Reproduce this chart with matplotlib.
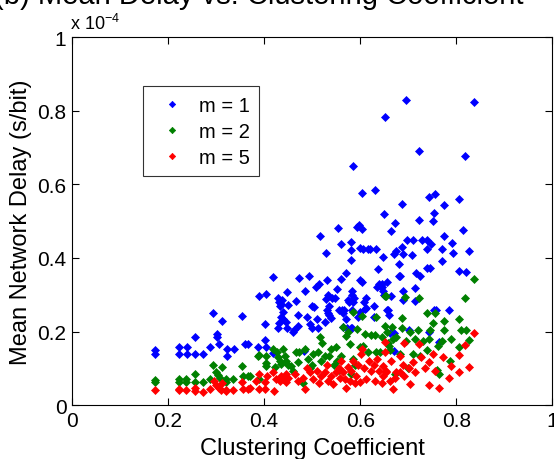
import matplotlib
matplotlib.use('Agg')
import matplotlib.pyplot as plt

plt.rcParams['font.family'] = ['Liberation Sans', 'DejaVu Sans']
plt.rcParams['mathtext.fontset'] = 'custom'
plt.rcParams['mathtext.rm'] = 'Liberation Sans'
plt.rcParams['mathtext.it'] = 'Liberation Sans'

# delays in units of 1e-4 s/bit
m1_x = [0.173, 0.173, 0.223, 0.223, 0.239, 0.239, 0.256, 0.256, 0.272, 0.288,
        0.294, 0.301, 0.301, 0.306, 0.313, 0.322, 0.322, 0.337, 0.353, 0.360,
        0.367, 0.388, 0.390, 0.402, 0.402, 0.404, 0.404, 0.418, 0.419, 0.428,
        0.430, 0.432, 0.435, 0.438, 0.439, 0.440, 0.436, 0.445, 0.448, 0.448,
        0.450, 0.430, 0.428, 0.462, 0.460, 0.467, 0.471, 0.471, 0.472, 0.484,
        0.486, 0.493, 0.490, 0.495, 0.500, 0.500, 0.503, 0.507, 0.510, 0.512,
        0.515, 0.517, 0.528, 0.530, 0.528, 0.532, 0.535, 0.535, 0.530, 0.532,
        0.527, 0.540, 0.542, 0.548, 0.552, 0.553, 0.555, 0.560, 0.560, 0.563,
        0.565, 0.565, 0.567, 0.571, 0.571, 0.572, 0.575, 0.576, 0.580, 0.581,
        0.581, 0.581, 0.582, 0.582, 0.582, 0.583, 0.585, 0.585, 0.588, 0.594,
        0.596, 0.598, 0.600, 0.600, 0.603, 0.604, 0.605, 0.603, 0.600, 0.607,
        0.610, 0.612, 0.612, 0.616, 0.620, 0.628, 0.628, 0.631, 0.632, 0.635,
        0.638, 0.640, 0.642, 0.646, 0.647, 0.645, 0.648, 0.650, 0.649, 0.651,
        0.655, 0.655, 0.657, 0.660, 0.662, 0.664, 0.665, 0.670, 0.670, 0.670,
        0.672, 0.674, 0.680, 0.681, 0.683, 0.686, 0.686, 0.690, 0.690, 0.690,
        0.696, 0.698, 0.701, 0.707, 0.710, 0.715, 0.715, 0.716, 0.722, 0.723,
        0.725, 0.728, 0.740, 0.740, 0.740, 0.743, 0.743, 0.745, 0.748, 0.751,
        0.753, 0.753, 0.755, 0.758, 0.765, 0.770, 0.770, 0.775, 0.775, 0.784,
        0.791, 0.794, 0.805, 0.805, 0.814, 0.819, 0.821, 0.827, 0.836]
m1_y = [0.150, 0.140, 0.159, 0.139, 0.159, 0.140, 0.185, 0.140, 0.140, 0.158,
        0.250, 0.193, 0.184, 0.165, 0.229, 0.153, 0.133, 0.153, 0.241, 0.166,
        0.166, 0.158, 0.298, 0.220, 0.178, 0.158, 0.303, 0.349, 0.142, 0.290,
        0.280, 0.270, 0.275, 0.285, 0.252, 0.235, 0.240, 0.225, 0.308, 0.210,
        0.273, 0.223, 0.210, 0.203, 0.200, 0.284, 0.245, 0.215, 0.345, 0.147,
        0.311, 0.350, 0.240, 0.220, 0.210, 0.270, 0.267, 0.320, 0.235, 0.210,
        0.330, 0.460, 0.414, 0.340, 0.289, 0.300, 0.270, 0.245, 0.260, 0.250,
        0.227, 0.238, 0.290, 0.290, 0.317, 0.481, 0.260, 0.439, 0.343, 0.260,
        0.250, 0.213, 0.260, 0.358, 0.234, 0.210, 0.287, 0.280, 0.210, 0.444,
        0.423, 0.394, 0.311, 0.260, 0.210, 0.300, 0.649, 0.280, 0.292, 0.485,
        0.240, 0.490, 0.340, 0.426, 0.480, 0.577, 0.425, 0.336, 0.252, 0.280,
        0.262, 0.290, 0.265, 0.425, 0.425, 0.270, 0.240, 0.586, 0.425, 0.320,
        0.370, 0.330, 0.325, 0.330, 0.402, 0.320, 0.309, 0.300, 0.520, 0.784,
        0.334, 0.260, 0.260, 0.245, 0.196, 0.472, 0.298, 0.410, 0.196, 0.147,
        0.496, 0.418, 0.352, 0.385, 0.350, 0.547, 0.430, 0.410, 0.310, 0.285,
        0.829, 0.450, 0.205, 0.407, 0.450, 0.318, 0.283, 0.360, 0.691, 0.502,
        0.352, 0.450, 0.450, 0.424, 0.374, 0.565, 0.200, 0.374, 0.437, 0.500,
        0.523, 0.260, 0.574, 0.260, 0.171, 0.424, 0.393, 0.544, 0.460, 0.258,
        0.442, 0.413, 0.559, 0.364, 0.475, 0.677, 0.361, 0.418, 0.823]

m2_x = [0.173, 0.173, 0.222, 0.222, 0.238, 0.238, 0.255, 0.255, 0.272, 0.288,
        0.294, 0.300, 0.304, 0.308, 0.313, 0.320, 0.320, 0.335, 0.353, 0.356,
        0.367, 0.370, 0.388, 0.390, 0.390, 0.403, 0.403, 0.404, 0.419, 0.422,
        0.426, 0.429, 0.432, 0.436, 0.440, 0.443, 0.446, 0.450, 0.455, 0.460,
        0.467, 0.471, 0.473, 0.480, 0.486, 0.491, 0.495, 0.500, 0.502, 0.512,
        0.516, 0.519, 0.520, 0.526, 0.536, 0.540, 0.545, 0.550, 0.552, 0.555,
        0.561, 0.564, 0.571, 0.575, 0.578, 0.580, 0.585, 0.586, 0.590, 0.593,
        0.599, 0.604, 0.605, 0.609, 0.616, 0.623, 0.630, 0.632, 0.633, 0.642,
        0.645, 0.651, 0.651, 0.653, 0.655, 0.658, 0.660, 0.662, 0.667, 0.668,
        0.672, 0.675, 0.682, 0.686, 0.688, 0.694, 0.695, 0.700, 0.703, 0.710,
        0.715, 0.720, 0.723, 0.725, 0.730, 0.740, 0.740, 0.743, 0.745, 0.751,
        0.755, 0.760, 0.762, 0.765, 0.770, 0.775, 0.775, 0.786, 0.790, 0.805,
        0.805, 0.810, 0.819, 0.820, 0.827, 0.836]
m2_y = [0.069, 0.064, 0.071, 0.062, 0.070, 0.062, 0.085, 0.064, 0.064, 0.070,
        0.110, 0.090, 0.082, 0.073, 0.105, 0.070, 0.064, 0.072, 0.106, 0.080,
        0.080, 0.080, 0.134, 0.072, 0.136, 0.134, 0.114, 0.107, 0.154, 0.103,
        0.144, 0.130, 0.121, 0.112, 0.154, 0.134, 0.121, 0.110, 0.107, 0.093,
        0.145, 0.116, 0.144, 0.060, 0.153, 0.125, 0.100, 0.110, 0.139, 0.144,
        0.184, 0.121, 0.170, 0.134, 0.134, 0.153, 0.110, 0.157, 0.121, 0.095,
        0.134, 0.212, 0.189, 0.200, 0.166, 0.085, 0.125, 0.253, 0.110, 0.207,
        0.157, 0.243, 0.160, 0.193, 0.144, 0.191, 0.191, 0.239, 0.144, 0.145,
        0.185, 0.216, 0.298, 0.296, 0.200, 0.170, 0.162, 0.150, 0.212, 0.180,
        0.085, 0.184, 0.140, 0.237, 0.210, 0.293, 0.175, 0.100, 0.200, 0.140,
        0.180, 0.205, 0.290, 0.135, 0.175, 0.250, 0.150, 0.180, 0.205, 0.222,
        0.250, 0.095, 0.160, 0.084, 0.175, 0.228, 0.205, 0.121, 0.180, 0.233,
        0.157, 0.205, 0.291, 0.205, 0.178, 0.342]

m5_x = [0.173, 0.222, 0.222, 0.238, 0.255, 0.255, 0.272, 0.288, 0.295, 0.300,
        0.305, 0.310, 0.313, 0.320, 0.320, 0.335, 0.353, 0.356, 0.367, 0.370,
        0.384, 0.390, 0.390, 0.402, 0.402, 0.405, 0.419, 0.420, 0.425, 0.432,
        0.435, 0.439, 0.445, 0.446, 0.450, 0.464, 0.470, 0.480, 0.486, 0.490,
        0.495, 0.502, 0.509, 0.515, 0.519, 0.526, 0.530, 0.533, 0.540, 0.543,
        0.550, 0.555, 0.557, 0.560, 0.565, 0.568, 0.571, 0.575, 0.578, 0.581,
        0.585, 0.590, 0.592, 0.595, 0.599, 0.602, 0.604, 0.608, 0.613, 0.618,
        0.623, 0.628, 0.630, 0.635, 0.640, 0.645, 0.647, 0.647, 0.651, 0.651,
        0.654, 0.654, 0.661, 0.665, 0.668, 0.672, 0.675, 0.682, 0.682, 0.690,
        0.692, 0.692, 0.701, 0.703, 0.710, 0.715, 0.722, 0.727, 0.735, 0.743,
        0.744, 0.751, 0.755, 0.765, 0.772, 0.784, 0.789, 0.805, 0.805, 0.819,
        0.827, 0.836]
m5_y = [0.042, 0.045, 0.040, 0.042, 0.047, 0.038, 0.037, 0.043, 0.065, 0.055,
        0.048, 0.042, 0.060, 0.042, 0.038, 0.042, 0.062, 0.045, 0.045, 0.048,
        0.066, 0.043, 0.084, 0.062, 0.044, 0.080, 0.089, 0.039, 0.071, 0.066,
        0.080, 0.071, 0.062, 0.084, 0.075, 0.084, 0.066, 0.075, 0.044, 0.100,
        0.089, 0.071, 0.093, 0.060, 0.080, 0.089, 0.110, 0.066, 0.080, 0.057,
        0.089, 0.100, 0.075, 0.120, 0.090, 0.071, 0.048, 0.105, 0.066, 0.093,
        0.120, 0.060, 0.080, 0.110, 0.062, 0.139, 0.153, 0.100, 0.071, 0.120,
        0.093, 0.110, 0.066, 0.125, 0.093, 0.060, 0.080, 0.107, 0.144, 0.171,
        0.093, 0.089, 0.066, 0.121, 0.044, 0.075, 0.089, 0.089, 0.134, 0.110,
        0.080, 0.168, 0.100, 0.057, 0.118, 0.090, 0.166, 0.130, 0.100, 0.054,
        0.116, 0.139, 0.093, 0.048, 0.130, 0.073, 0.107, 0.136, 0.089, 0.164,
        0.103, 0.196]

series = [(m1_x, m1_y, 'b', 'm = 1'),
          (m2_x, m2_y, (0, 0.5, 0), 'm = 2'),
          (m5_x, m5_y, 'r', 'm = 5')]

fig = plt.figure(figsize=(5.54, 4.60), dpi=100)
ax = fig.add_axes([0.130, 0.117, 0.867, 0.800])

for xs, ys, c, lab in series:
    ax.plot(xs, ys, linestyle='none', marker='D', markersize=3.8,
            markeredgewidth=0.5, color=c, label=lab)

ax.set_xlim(0, 1)
ax.set_ylim(0, 1)
ax.set_xticks([0, 0.2, 0.4, 0.6, 0.8, 1])
ax.set_xticklabels(['0', '0.2', '0.4', '0.6', '0.8', '1'])
ax.set_yticks([0, 0.2, 0.4, 0.6, 0.8, 1])
ax.set_yticklabels(['0', '0.2', '0.4', '0.6', '0.8', '1'])
ax.tick_params(direction='in', top=True, right=True, length=5, width=0.8,
               labelsize=15, pad=4)
for s in ax.spines.values():
    s.set_linewidth(0.8)

ax.set_xlabel('Clustering Coefficient', fontsize=17, labelpad=5)
ax.set_ylabel('Mean Network Delay (s/bit)', fontsize=17, labelpad=4)
fig.text(0.127, 0.934, r'x 10$^{-4}$', fontsize=13, ha='left', va='baseline')

# title cut off by the top edge of the image
fig.text(-0.01, 0.991, '(b) Mean Delay vs. Clustering Coefficient', fontsize=21,
         ha='left', va='baseline', color='black')

leg = ax.legend(loc='upper left', bbox_to_anchor=(0.147, 0.866), fontsize=14.5,
                frameon=True, fancybox=False, edgecolor='black',
                borderpad=0.45, labelspacing=0.35, handletextpad=0.35,
                handlelength=2.0, markerscale=0.85, borderaxespad=0)
leg.get_frame().set_linewidth(0.8)

fig.savefig('out.png', dpi=100)
